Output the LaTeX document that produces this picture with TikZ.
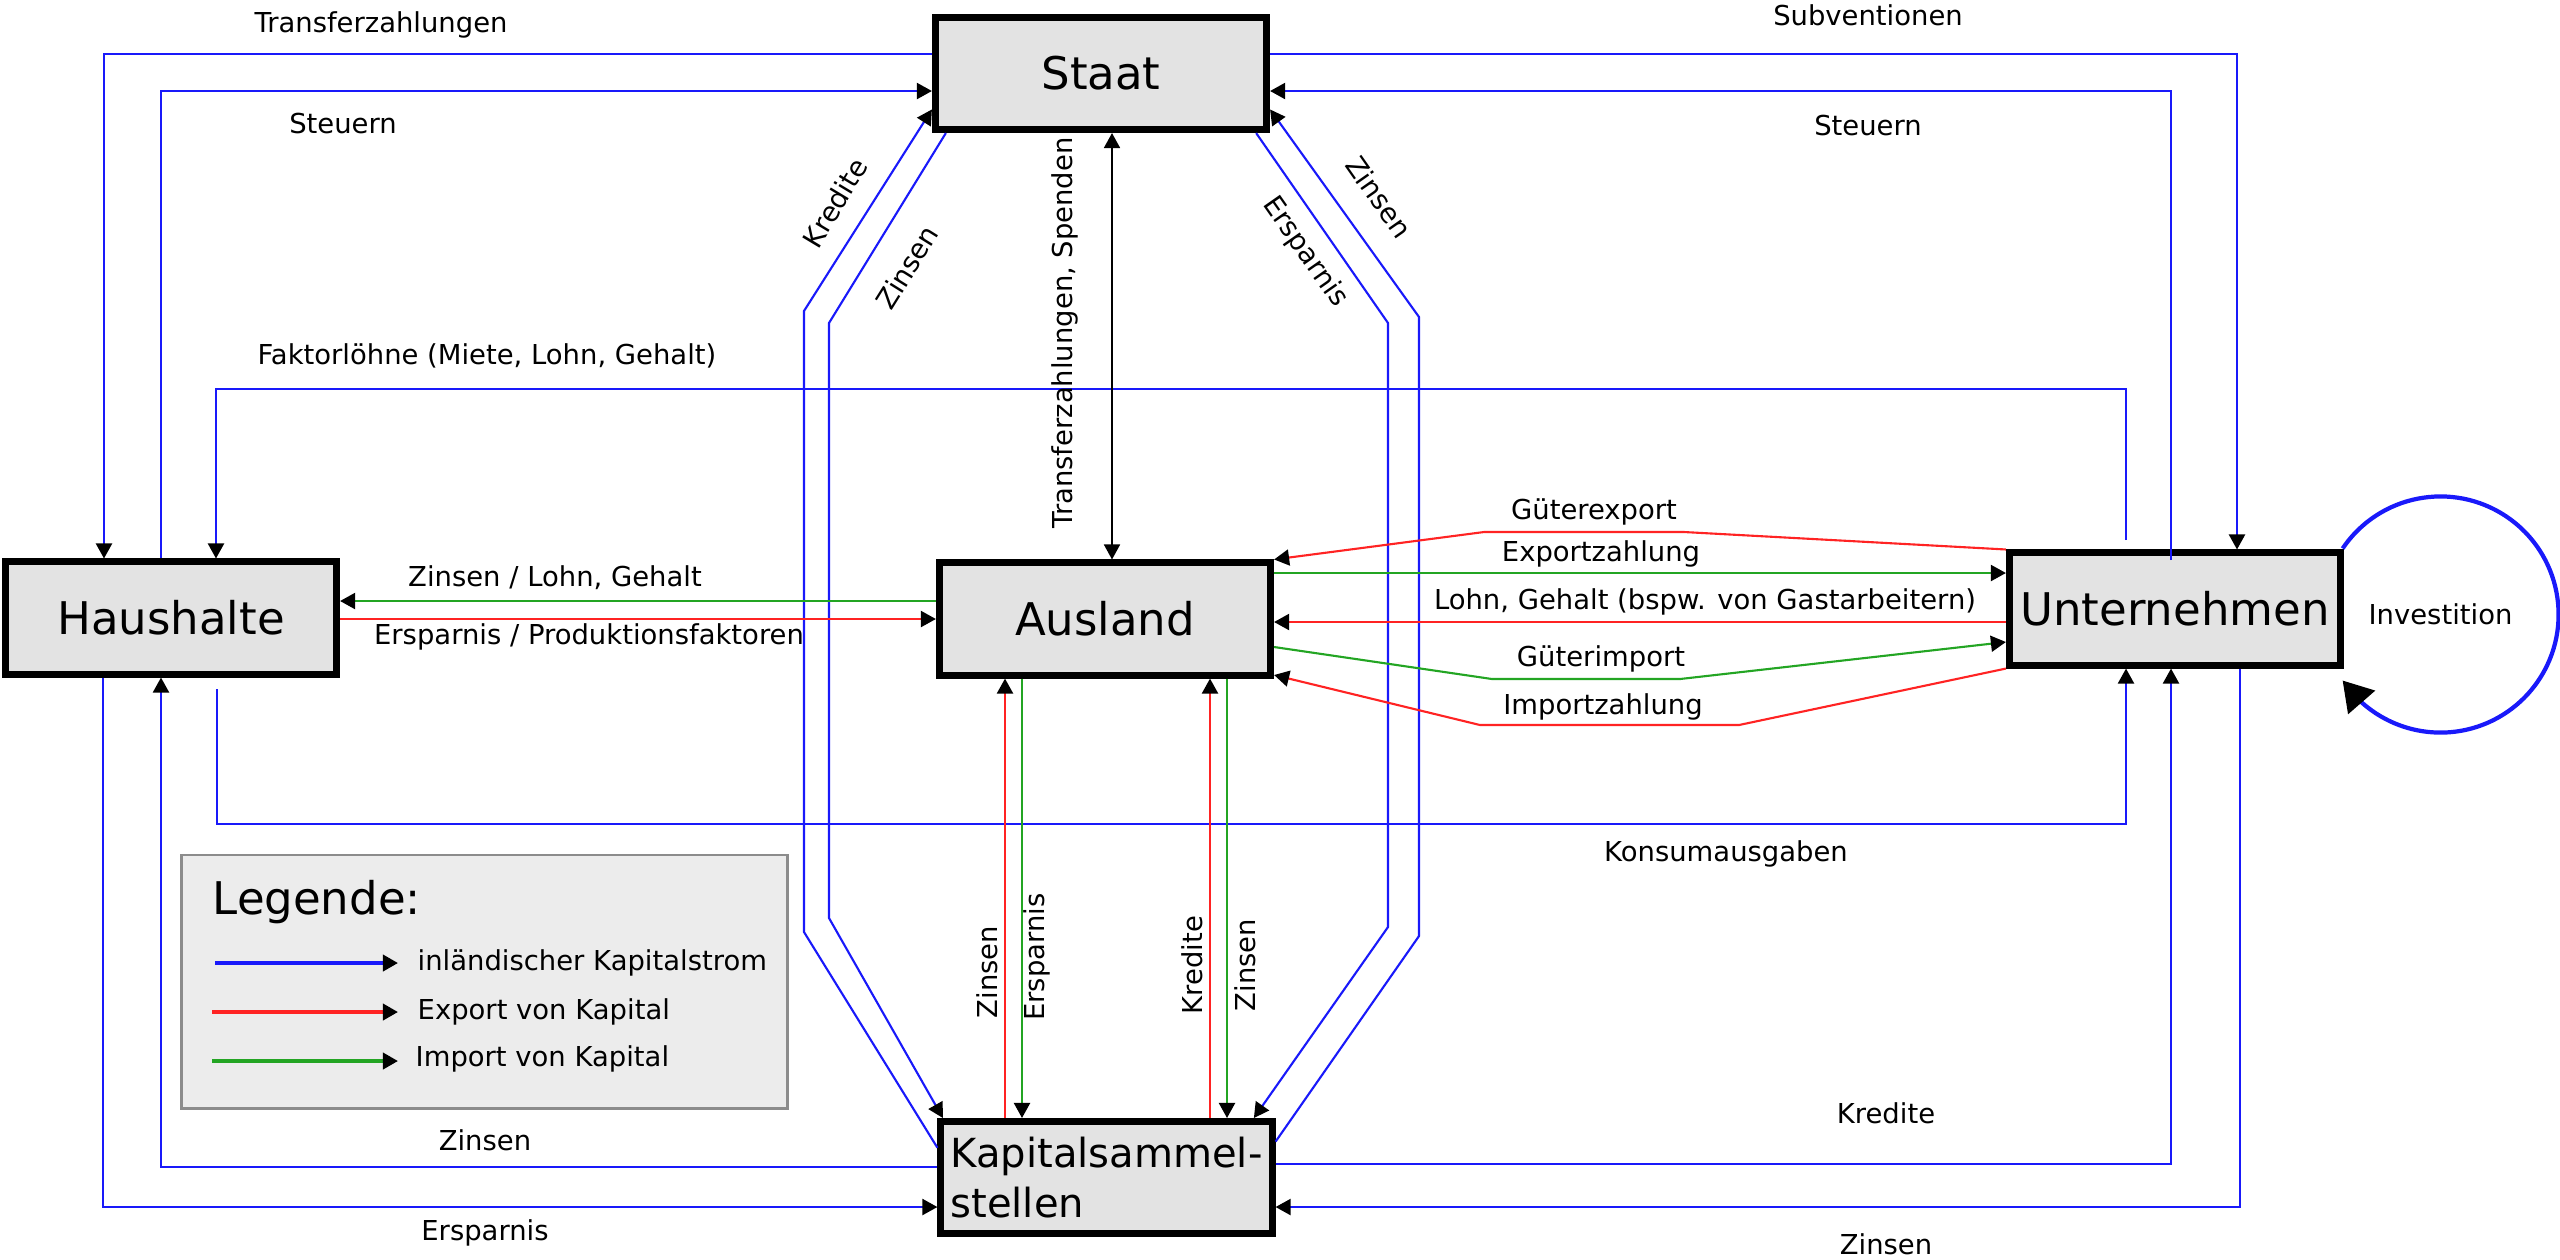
\documentclass[tikz,border=0pt]{standalone}
\usepackage{fontspec}
\setmainfont{DejaVu Sans}
\usetikzlibrary{arrows.meta,bending,shapes.geometric}
\definecolor{flowblue}{RGB}{25,25,250}
\definecolor{flowred}{RGB}{255,35,35}
\definecolor{flowgreen}{RGB}{35,165,35}
\definecolor{boxgray}{RGB}{227,227,227}
\definecolor{legfill}{RGB}{236,236,236}
\definecolor{legborder}{RGB}{140,140,140}
\tikzset{
  sector/.style={draw=black, line width=0.07cm, fill=boxgray, rectangle, inner sep=0pt,
    minimum width=3.31cm, minimum height=1.12cm, font=\fontsize{12.8pt}{15pt}\selectfont},
  lbl/.style={font=\fontsize{7.8pt}{9pt}\selectfont, inner sep=0pt},
  arr/.style={-{Triangle[length=1.5mm,width=1.6mm,color=black]}},
  biarr/.style={{Triangle[length=1.5mm,width=1.6mm,color=black]}-{Triangle[length=1.5mm,width=1.6mm,color=black]}},
  domline/.style={draw=flowblue, line width=0.6pt},
  expline/.style={draw=flowred, line width=0.6pt},
  impline/.style={draw=flowgreen, line width=0.6pt},
}
\begin{document}
\begin{tikzpicture}[x=0.01cm, y=-0.01cm]
\useasboundingbox (0,0) rectangle (2560,1259);

% ---------- sectors ----------
\node[sector] (Staat) at (1101,73.5) {Staat};
\node[sector] (Haus) at (171,618) {Haushalte};
\node[sector] (Ausland) at (1105,619) {Ausland};
\node[sector] (Unt) at (2175,609) {Unternehmen};
\node[sector, font=\fontsize{11.4pt}{14.2pt}\selectfont, align=left] (KS) at (1106.5,1177.5) {Kapitalsammel-\\stellen};

% ---------- legend ----------
\node[draw=legborder, line width=0.8pt, fill=legfill, minimum width=6.05cm, minimum height=2.53cm, inner sep=0pt] (legend) at (484.5,981.5) {};
\node[anchor=west, inner sep=0pt, font=\fontsize{12.8pt}{15pt}\selectfont] (legtitle) at (212,902) {Legende:};
\coordinate (lgA1) at (215,963); \coordinate (lgB1) at (398,963);
\coordinate (lgA2) at (212,1012); \coordinate (lgB2) at (398,1012);
\coordinate (lgA3) at (212,1061); \coordinate (lgB3) at (398,1061);
\draw[domline, arr, line width=1pt] (lgA1) -- (lgB1);
\draw[expline, arr, line width=1pt] (lgA2) -- (lgB2);
\draw[impline, arr, line width=1pt] (lgA3) -- (lgB3);
\node[lbl, anchor=west] (lt1) at (417,963) {inländischer Kapitalstrom};
\node[lbl, anchor=west] (lt2) at (417,1012) {Export von Kapital};
\node[lbl, anchor=west] (lt3) at (415,1059) {Import von Kapital};

% ---------- bend points ----------
\coordinate (tzA) at (104,54);
\coordinate (stA) at (161,91);
\coordinate (flS) at (2126,540); \coordinate (flA) at (2126,389); \coordinate (flB) at (216,389);
\coordinate (svA) at (2237,54);
\coordinate (suS) at (2171,560); \coordinate (suA) at (2171,91);
\coordinate (kaS) at (217,689); \coordinate (kaA) at (217,824); \coordinate (kaB) at (2126,824);
\coordinate (zhA) at (161,1167);
\coordinate (ehA) at (103,1207);
\coordinate (kuA) at (2171,1164);
\coordinate (zuA) at (2240,1207);
\coordinate (kl1) at (804,932); \coordinate (kl2) at (804,311);
\coordinate (zl1) at (829,323); \coordinate (zl2) at (829,918);
\coordinate (er1) at (1388,323); \coordinate (er2) at (1388,927);
\coordinate (zr1) at (1419,936); \coordinate (zr2) at (1419,317);
\coordinate (tsx) at (1112,0);
\coordinate (hy1) at (0,601); \coordinate (hy2) at (0,619);
\coordinate (ge1) at (1684,532); \coordinate (ge2) at (1484,532);
\coordinate (ez) at (0,573);
\coordinate (lg) at (0,622);
\coordinate (gi0) at (0,647); \coordinate (gi1) at (1492,679); \coordinate (gi2) at (1680,679); \coordinate (gi3) at (0,642);
\coordinate (iz1) at (1739,725); \coordinate (iz2) at (1480,725); \coordinate (iz3) at (0,675);
\coordinate (v1) at (1005,0); \coordinate (v2) at (1022,0); \coordinate (v3) at (1210,0); \coordinate (v4) at (1227,0);

% ---------- domestic flows (blue) ----------
\draw[domline, arr] (Staat.west |- tzA) -- (tzA) -- (tzA |- Haus.north);
\draw[domline, arr] (stA |- Haus.north) -- (stA) -- (stA -| Staat.west);
\draw[domline, arr] (flS) -- (flA) -- (flB) -- (flB |- Haus.north);
\draw[domline, arr] (Staat.east |- svA) -- (svA) -- (svA |- Unt.north);
\draw[domline, arr] (suS) -- (suA) -- (suA -| Staat.east);
\draw[domline, arr] (kaS) -- (kaA) -- (kaB) -- (kaB |- Unt.south);
\draw[domline, arr] (KS.west |- zhA) -- (zhA) -- (zhA |- Haus.south);
\draw[domline, arr] (ehA |- Haus.south) -- (ehA) -- (ehA -| KS.west);
\draw[domline, arr] (KS.east |- kuA) -- (kuA) -- (kuA |- Unt.south);
\draw[domline, arr] (zuA |- Unt.south) -- (zuA) -- (zuA -| KS.east);
\draw[domline, arr] (KS.170) -- (kl1) -- (kl2) -- (Staat.192);
\draw[domline, arr] (Staat.201) -- (zl1) -- (zl2) -- (KS.160);
\draw[domline, arr] (Staat.-21) -- (er1) -- (er2) -- (KS.22);
\draw[domline, arr] (KS.12) -- (zr1) -- (zr2) -- (Staat.-12);

% ---------- Staat <-> Ausland ----------
\draw[biarr, line width=0.5pt] (tsx |- Staat.south) -- (tsx |- Ausland.north);

% ---------- Ausland <-> Haushalte ----------
\draw[impline, arr] (Ausland.west |- hy1) -- (Haus.east |- hy1);
\draw[expline, arr] (Haus.east |- hy2) -- (Ausland.west |- hy2);

% ---------- Ausland <-> Unternehmen ----------
\draw[expline, arr] (Unt.north west) -- (ge1) -- (ge2) -- (Ausland.north east);
\draw[impline, arr] (Ausland.east |- ez) -- (Unt.west |- ez);
\draw[expline, arr] (Unt.west |- lg) -- (Ausland.east |- lg);
\draw[impline, arr] (Ausland.east |- gi0) -- (gi1) -- (gi2) -- (Unt.west |- gi3);
\draw[expline, arr] (Unt.south west) -- (iz1) -- (iz2) -- (Ausland.east |- iz3);

% ---------- Ausland <-> Kapitalsammelstellen ----------
\draw[expline, arr] (v1 |- KS.north) -- (v1 |- Ausland.south);
\draw[impline, arr] (v2 |- Ausland.south) -- (v2 |- KS.north);
\draw[expline, arr] (v3 |- KS.north) -- (v3 |- Ausland.south);
\draw[impline, arr] (v4 |- Ausland.south) -- (v4 |- KS.north);

% ---------- Investition ----------
\node[circle, inner sep=0pt, outer sep=0pt, minimum size=2.36cm, font=\fontsize{7.8pt}{9pt}\selectfont] (inv) at (2440.5,614.5) {Investition};
\draw[draw=flowblue, line width=1.2pt, -{Triangle[length=2.9mm,width=3.5mm,color=black,flex]}]
  (inv.146) arc[start angle=146, end angle=-146, radius=1.18cm];

% ---------- labels ----------
\node[lbl] (l1) at (381,25) {Transferzahlungen};
\node[lbl] (l2) at (343,123) {Steuern};
\node[lbl] (l3) at (1868,15) {Subventionen};
\node[lbl] (l4) at (1868,125) {Steuern};
\node[lbl] (l5) at (487,356) {Faktorlöhne (Miete, Lohn, Gehalt)};
\node[lbl, rotate=59] (l6) at (835,203) {Kredite};
\node[lbl, rotate=58] (l7) at (907,267) {Zinsen};
\node[lbl, rotate=90] (l8) at (1065,333) {Transferzahlungen, Spenden};
\node[lbl, rotate=-55] (l9) at (1305,252) {Ersparnis};
\node[lbl, rotate=-55] (l10) at (1379,197) {Zinsen};
\node[lbl] (l11) at (555,578) {Zinsen / Lohn, Gehalt};
\node[lbl] (l12) at (589,637) {Ersparnis / Produktionsfaktoren};
\node[lbl] (l13) at (1594,512) {Güterexport};
\node[lbl] (l14) at (1601,554) {Exportzahlung};
\node[lbl] (l15) at (1705,602) {Lohn, Gehalt (bspw. von Gastarbeitern)};
\node[lbl] (l16) at (1601,659) {Güterimport};
\node[lbl] (l17) at (1603,707) {Importzahlung};
\node[lbl] (l18) at (1726,854) {Konsumausgaben};
\node[lbl, rotate=90] (l19) at (987,972) {Zinsen};
\node[lbl, rotate=90] (l20) at (1037,957) {Ersparnis};
\node[lbl, rotate=90] (l21) at (1192,965) {Kredite};
\node[lbl, rotate=90] (l22) at (1245,965) {Zinsen};
\node[lbl] (l23) at (485,1140) {Zinsen};
\node[lbl] (l24) at (485,1233) {Ersparnis};
\node[lbl] (l25) at (1886,1113) {Kredite};
\node[lbl] (l26) at (1886,1244) {Zinsen};
\end{tikzpicture}
\end{document}
